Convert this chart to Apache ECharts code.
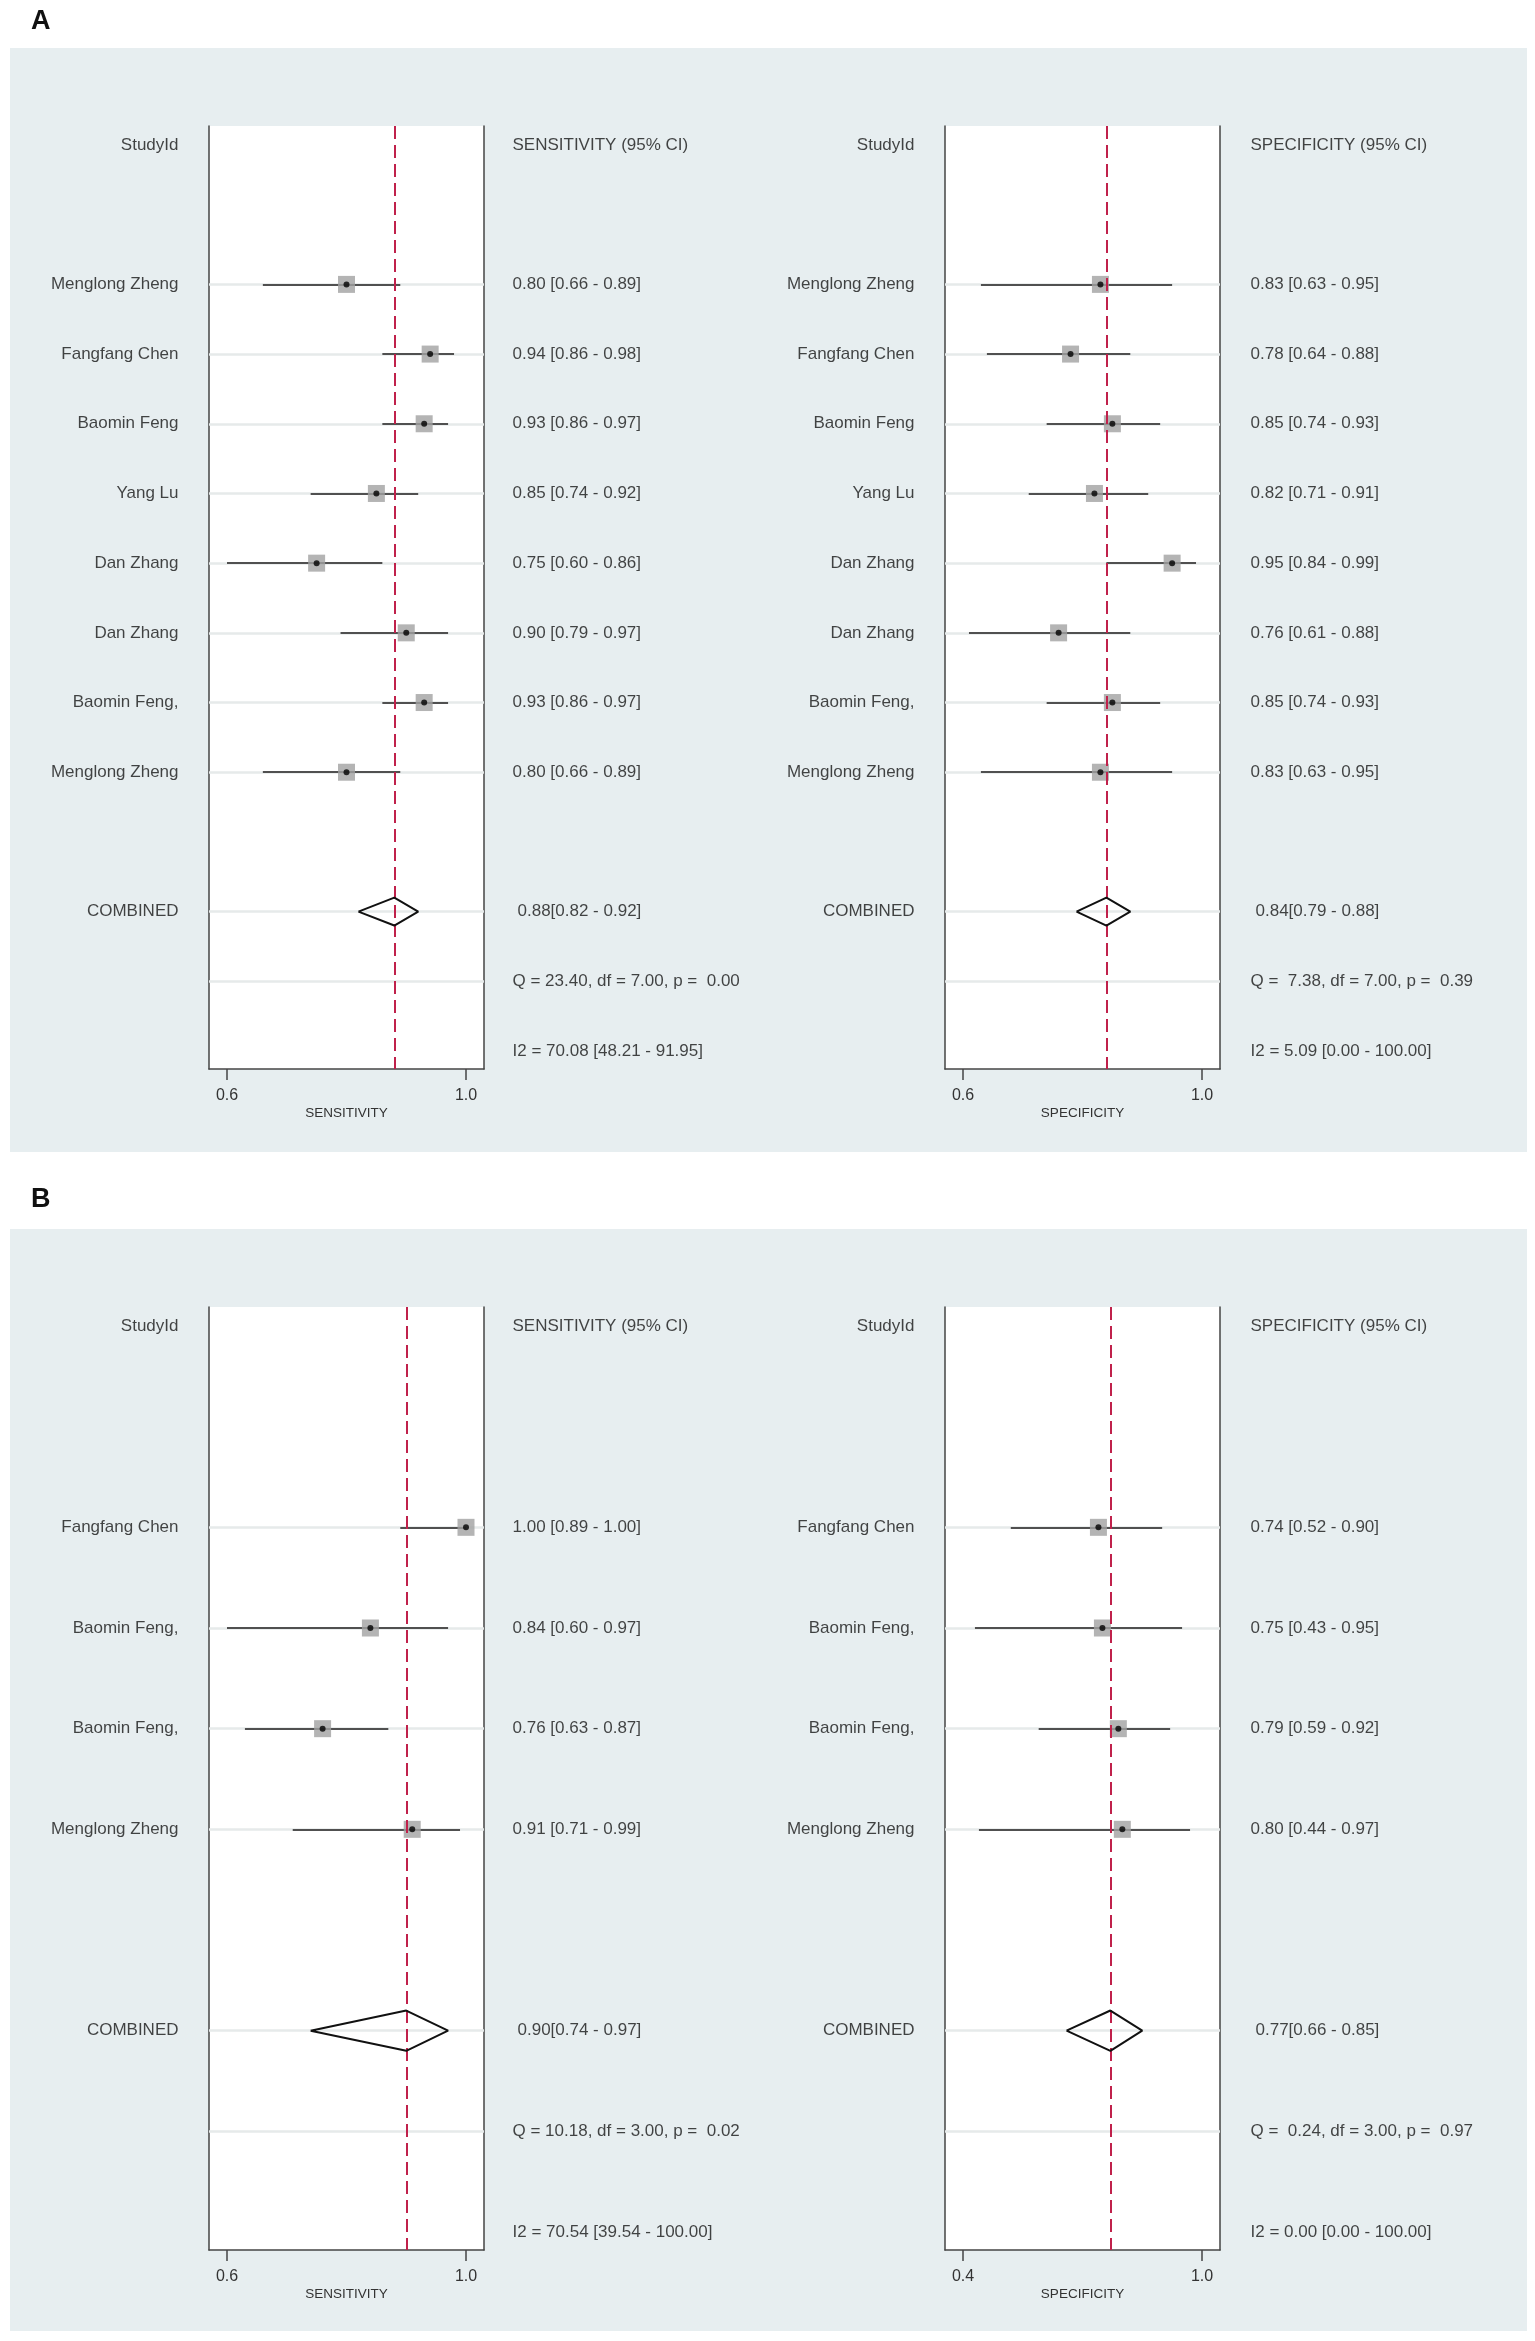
<!DOCTYPE html>
<html>
<head>
<meta charset="utf-8">
<title>Forest plots of sensitivity and specificity</title>
<script src="https://cdn.jsdelivr.net/npm/echarts@6.0.0/dist/echarts.min.js"></script>
<style>
  html, body { margin: 0; padding: 0; background: #fff; }
  #chart { width: 1535px; height: 2341px; }
</style>
</head>
<body>
<div id="chart"></div>
<script>
// ---- panel A data ----
const studiesA = ['Menglong Zheng', 'Fangfang Chen', 'Baomin Feng', 'Yang Lu', 'Dan Zhang', 'Dan Zhang', 'Baomin Feng,', 'Menglong Zheng']
const sensA = [0.80, 0.94, 0.93, 0.85, 0.75, 0.90, 0.93, 0.80]
const sensALo = [0.66, 0.86, 0.86, 0.74, 0.60, 0.79, 0.86, 0.66]
const sensAHi = [0.89, 0.98, 0.97, 0.92, 0.86, 0.97, 0.97, 0.89]
const sensAPooled = [0.88, 0.82, 0.92]
const sensAStats = ['Q = 23.40, df = 7.00, p =  0.00', 'I2 = 70.08 [48.21 - 91.95]']

const specA = [0.83, 0.78, 0.85, 0.82, 0.95, 0.76, 0.85, 0.83]
const specALo = [0.63, 0.64, 0.74, 0.71, 0.84, 0.61, 0.74, 0.63]
const specAHi = [0.95, 0.88, 0.93, 0.91, 0.99, 0.88, 0.93, 0.95]
const specAPooled = [0.84, 0.79, 0.88]
const specAStats = ['Q =  7.38, df = 7.00, p =  0.39', 'I2 = 5.09 [0.00 - 100.00]']

// ---- panel B data ----
const studiesB = ['Fangfang Chen', 'Baomin Feng,', 'Baomin Feng,', 'Menglong Zheng']
const sensB = [1.00, 0.84, 0.76, 0.91]
const sensBLo = [0.89, 0.60, 0.63, 0.71]
const sensBHi = [1.00, 0.97, 0.87, 0.99]
const sensBPooled = [0.90, 0.74, 0.97]
const sensBStats = ['Q = 10.18, df = 3.00, p =  0.02', 'I2 = 70.54 [39.54 - 100.00]']

const specB = [0.74, 0.75, 0.79, 0.80]
const specBLo = [0.52, 0.43, 0.59, 0.44]
const specBHi = [0.90, 0.95, 0.92, 0.97]
const specBPooled = [0.77, 0.66, 0.85]
const specBStats = ['Q =  0.24, df = 3.00, p =  0.97', 'I2 = 0.00 [0.00 - 100.00]']

// tick labels
const ticksSensA = [0.6, 1.0]
const ticksSpecA = [0.6, 1.0]
const ticksSensB = [0.6, 1.0]
const ticksSpecB = [0.4, 1.0]

const FONT = 'Liberation Sans, Arial, Helvetica, sans-serif'
const TXT = '#161616'
const BOX = '#454545'

const panels = [
  { studies: studiesA, est: sensA, lo: sensALo, hi: sensAHi, pooled: sensAPooled, stats: sensAStats, ticks: ticksSensA,
    head: 'SENSITIVITY (95% CI)', name: 'SENSITIVITY', left: 209, top: 126, labGap: 30, txtGap: 28 },
  { studies: studiesA, est: specA, lo: specALo, hi: specAHi, pooled: specAPooled, stats: specAStats, ticks: ticksSpecA,
    head: 'SPECIFICITY (95% CI)', name: 'SPECIFICITY', left: 945, top: 126, labGap: 30, txtGap: 30 },
  { studies: studiesB, est: sensB, lo: sensBLo, hi: sensBHi, pooled: sensBPooled, stats: sensBStats, ticks: ticksSensB,
    head: 'SENSITIVITY (95% CI)', name: 'SENSITIVITY', left: 209, top: 1307, labGap: 30, txtGap: 28 },
  { studies: studiesB, est: specB, lo: specBLo, hi: specBHi, pooled: specBPooled, stats: specBStats, ticks: ticksSpecB,
    head: 'SPECIFICITY (95% CI)', name: 'SPECIFICITY', left: 945, top: 1307, labGap: 30, txtGap: 30 }
]

const BOX_W = 275
const BOX_H = 943
const f2 = v => v.toFixed(2)

const grid = []
const xAxis = []
const yAxis = []
const series = []

panels.forEach(function (p, i) {
  const n = p.studies.length
  const combSlot = n + 3
  const lastSlot = n + 5
  const step = (BOX_H - 37) / lastSlot
  const yMin = -19 / step
  const yMax = lastSlot + 18 / step
  const span = p.ticks[p.ticks.length - 1] - p.ticks[0]
  const pad = span * 18 / 239
  const xMin = p.ticks[0] - pad
  const xMax = p.ticks[p.ticks.length - 1] + pad
  const slots = p.studies.map((s, k) => k + 2)

  grid.push({ left: p.left, top: p.top, width: BOX_W, height: BOX_H, show: true, backgroundColor: '#fff', borderWidth: 0 })

  xAxis.push({
    gridIndex: i, type: 'value', min: xMin, max: xMax,
    axisLine: { show: true, onZero: false, lineStyle: { color: BOX, width: 1.5 } },
    axisTick: { show: true, length: 11, customValues: p.ticks, lineStyle: { color: BOX, width: 1.5 } },
    axisLabel: { customValues: p.ticks, formatter: v => v.toFixed(1), margin: 19, fontSize: 16, color: '#333', fontFamily: FONT },
    splitLine: { show: false },
    name: p.name, nameLocation: 'middle', nameGap: 37,
    nameTextStyle: { fontSize: 13.5, color: '#333', fontFamily: FONT }
  })
  yAxis.push({
    gridIndex: i, type: 'value', inverse: true, min: yMin, max: yMax, position: 'left',
    axisLine: { show: true, onZero: false, lineStyle: { color: BOX, width: 1.5 } },
    axisTick: { show: false }, axisLabel: { show: false }, splitLine: { show: false }
  })
  yAxis.push({
    gridIndex: i, type: 'value', inverse: true, min: yMin, max: yMax, position: 'right',
    axisLine: { show: true, onZero: false, lineStyle: { color: BOX, width: 1.5 } },
    axisTick: { show: false }, axisLabel: { show: false }, splitLine: { show: false }
  })
  const xi = i
  const yi = i * 2

  // faint row lines
  series.push({
    type: 'lines', coordinateSystem: 'cartesian2d', xAxisIndex: xi, yAxisIndex: yi, silent: true, z: 1,
    lineStyle: { color: '#e6eaea', width: 2.5, opacity: 1 },
    data: slots.concat([combSlot, combSlot + 1]).map(s => ({ coords: [[xMin, s], [xMax, s]] }))
  })
  // confidence intervals
  series.push({
    type: 'lines', coordinateSystem: 'cartesian2d', xAxisIndex: xi, yAxisIndex: yi, silent: true, z: 3,
    lineStyle: { color: '#505050', width: 2, opacity: 1 },
    data: slots.map((s, k) => ({ coords: [[p.lo[k], s], [p.hi[k], s]] }))
  })
  // study weight boxes
  series.push({
    type: 'scatter', xAxisIndex: xi, yAxisIndex: yi, silent: true, z: 4,
    symbol: 'rect', symbolSize: 17, itemStyle: { color: '#a1a1a1' },
    data: slots.map((s, k) => [p.est[k], s])
  })
  // point estimates
  series.push({
    type: 'scatter', xAxisIndex: xi, yAxisIndex: yi, silent: true, z: 5,
    symbol: 'circle', symbolSize: 6, itemStyle: { color: '#000' },
    data: slots.map((s, k) => [p.est[k], s])
  })
  // pooled diamond + pooled reference line
  const h = 0.2
  series.push({
    type: 'line', xAxisIndex: xi, yAxisIndex: yi, silent: true, z: 5,
    symbol: 'none', lineStyle: { color: '#111', width: 2 },
    data: [[p.pooled[1], combSlot], [p.pooled[0], combSlot - h], [p.pooled[2], combSlot], [p.pooled[0], combSlot + h], [p.pooled[1], combSlot]],
    markLine: {
      silent: true, symbol: 'none', label: { show: false },
      lineStyle: { color: '#c0214b', type: [13, 6], width: 2 },
      data: [{ xAxis: p.pooled[0] }]
    }
  })
  // study labels (left)
  series.push({
    type: 'scatter', xAxisIndex: xi, yAxisIndex: yi, silent: true, z: 6,
    symbolSize: 1, itemStyle: { color: 'rgba(0,0,0,0)' },
    label: { show: true, position: 'left', distance: p.labGap, formatter: '{b}', fontSize: 17, color: TXT, fontFamily: FONT },
    data: [{ name: 'StudyId', value: [xMin, 0] }]
      .concat(p.studies.map((s, k) => ({ name: s, value: [xMin, slots[k]] })))
      .concat([{ name: 'COMBINED', value: [xMin, combSlot] }])
  })
  // estimate text (right)
  series.push({
    type: 'scatter', xAxisIndex: xi, yAxisIndex: yi, silent: true, z: 6,
    symbolSize: 1, itemStyle: { color: 'rgba(0,0,0,0)' },
    label: { show: true, position: 'right', distance: p.txtGap, formatter: '{b}', fontSize: 17, color: TXT, fontFamily: FONT },
    data: [{ name: p.head, value: [xMax, 0] }]
      .concat(p.studies.map((s, k) => ({ name: f2(p.est[k]) + ' [' + f2(p.lo[k]) + ' - ' + f2(p.hi[k]) + ']', value: [xMax, slots[k]] })))
      .concat([
        { name: f2(p.pooled[0]) + '[' + f2(p.pooled[1]) + ' - ' + f2(p.pooled[2]) + ']', value: [xMax, combSlot], label: { distance: p.txtGap + 5 } },
        { name: p.stats[0], value: [xMax, combSlot + 1] },
        { name: p.stats[1], value: [xMax, combSlot + 2] }
      ])
  })
})

const chart = echarts.init(document.getElementById('chart'), null, { renderer: 'canvas' })
chart.setOption({
  animation: false,
  backgroundColor: '#fff',
  textStyle: { fontFamily: FONT },
  title: [
    { text: 'A', left: 26, top: 3, textStyle: { fontSize: 27, fontWeight: 'bold', color: '#111', fontFamily: FONT } },
    { text: 'B', left: 26, top: 1181, textStyle: { fontSize: 27, fontWeight: 'bold', color: '#111', fontFamily: FONT } }
  ],
  graphic: [
    { type: 'rect', z: -10, silent: true, shape: { x: 10, y: 48, width: 1517, height: 1104 }, style: { fill: '#e7eef0' } },
    { type: 'rect', z: -10, silent: true, shape: { x: 10, y: 1229, width: 1517, height: 1102 }, style: { fill: '#e7eef0' } }
  ],
  grid: grid,
  xAxis: xAxis,
  yAxis: yAxis,
  series: series
})
</script>
</body>
</html>
